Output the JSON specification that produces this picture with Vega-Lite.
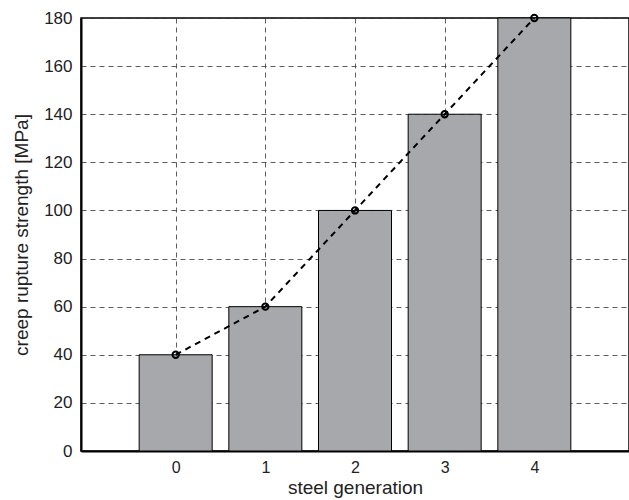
{
  "$schema": "https://vega.github.io/schema/vega-lite/v6.json",
  "width": 548,
  "height": 433,
  "autosize": {"type": "none"},
  "padding": {"left": 81, "top": 18, "right": 0, "bottom": 49},
  "config": {
    "font": "Liberation Sans",
    "view": {"stroke": "black", "strokeWidth": 1.5},
    "axis": {
      "labelFont": "Liberation Sans",
      "titleFont": "Liberation Sans",
      "labelFontSize": 17,
      "titleFontSize": 19,
      "titleFontWeight": "normal",
      "labelColor": "#222",
      "titleColor": "#222",
      "domainColor": "black",
      "domainWidth": 2,
      "ticks": false,
      "gridColor": "#333",
      "gridDash": [5, 4],
      "gridWidth": 0.8,
      "gridOpacity": 1
    }
  },
  "data": {
    "values": [
      {"generation": 0, "strength": 40},
      {"generation": 1, "strength": 60},
      {"generation": 2, "strength": 100},
      {"generation": 3, "strength": 140},
      {"generation": 4, "strength": 180}
    ]
  },
  "encoding": {
    "x": {
      "field": "generation",
      "type": "quantitative",
      "scale": {"domain": [-1, 5], "nice": false, "zero": false},
      "axis": {"values": [0, 1, 2, 3, 4], "title": "steel generation", "labelPadding": 8, "labelFontSize": 16, "titlePadding": 3, "format": "d"}
    },
    "y": {
      "field": "strength",
      "type": "quantitative",
      "scale": {"domain": [0, 180], "nice": false},
      "axis": {"values": [0, 20, 40, 60, 80, 100, 120, 140, 160, 180], "title": "creep rupture strength [MPa]", "labelPadding": 9, "titlePadding": 12}
    }
  },
  "layer": [
    {"mark": {"type": "bar", "size": 73, "fill": "#a7a8ab", "stroke": "black", "strokeWidth": 1}},
    {"mark": {"type": "line", "color": "black", "strokeWidth": 2, "strokeDash": [6, 5]}},
    {"mark": {"type": "point", "shape": "circle", "filled": false, "color": "black", "strokeWidth": 2, "size": 40, "opacity": 1}}
  ]
}
